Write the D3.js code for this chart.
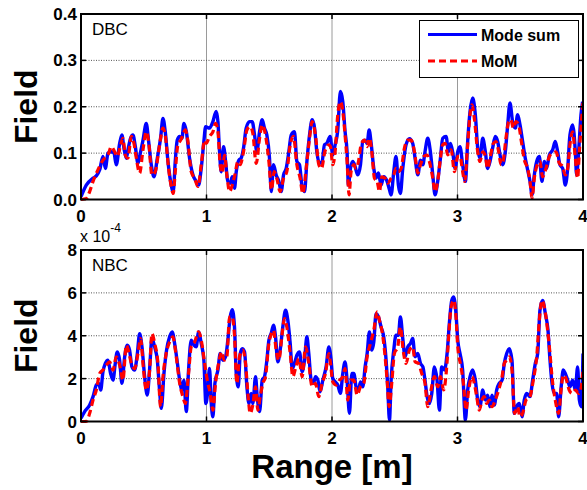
<!DOCTYPE html>
<html>
<head>
<meta charset="utf-8">
<script src="https://cdn.jsdelivr.net/npm/d3@7"></script>
<style>
  html, body { margin: 0; padding: 0; background: #fff; }
  svg { display: block; }
  text { font-family: "Liberation Sans", Arial, sans-serif; }
</style>
</head>
<body>
<svg id="chart" width="587" height="490"></svg>
<script>
// ---- Range axis and tick labels ----
const rangeTicks = [0, 1, 2, 3, 4];
const dbcTicks = [0, 0.1, 0.2, 0.3, 0.4];
const nbcTicks = [0, 2, 4, 6, 8];   // scaled by 1e-4
const seriesNames = ["Mode sum", "MoM"];

// ---- DBC: mode-sum field vs range ----
const dbcModeX = [0.000,0.042,0.096,0.122,0.149,0.175,0.194,0.215,0.242,0.263,0.281,0.308,0.326,0.342,0.361,0.374,0.395,0.414,0.433,0.454,0.475,0.494,0.520,0.539,0.560,0.581,0.608,0.634,0.653,0.671,0.693,0.714,0.735,0.751,0.767,0.786,0.804,0.820,0.839,0.865,0.892,0.918,0.937,0.958,0.979,0.993,
  1.024,1.051,1.077,1.091,1.104,1.117,1.136,1.152,1.170,1.189,1.205,1.223,1.237,1.258,1.276,1.295,1.316,1.343,1.364,1.383,1.401,1.423,1.444,1.462,1.481,1.502,1.516,1.534,1.555,1.577,1.595,1.614,1.635,1.656,1.675,1.701,1.720,1.741,1.760,1.781,1.800,1.821,1.842,1.861,1.879,1.900,1.921,1.940,1.958,1.985,
  2.006,2.025,2.045,2.067,2.086,2.104,2.120,2.131,2.147,2.166,2.184,2.205,2.227,2.245,2.264,2.280,2.296,2.312,2.333,2.351,2.370,2.391,2.412,2.439,2.458,2.471,2.492,2.510,2.529,2.545,2.564,2.590,2.617,2.643,2.662,2.684,2.705,2.724,2.741,2.763,2.784,2.803,2.821,2.842,2.864,2.882,2.909,2.928,2.944,2.963,2.981,
  3.002,3.020,3.041,3.063,3.081,3.100,3.121,3.142,3.161,3.179,3.201,3.222,3.240,3.259,3.280,3.301,3.320,3.339,3.360,3.381,3.400,3.418,3.439,3.461,3.479,3.498,3.519,3.540,3.559,3.578,3.594,3.612,3.631,3.652,3.673,3.692,3.710,3.732,3.758,3.779,3.798,3.816,3.838,3.859,3.878,3.896,3.917,3.939,3.949,3.965,3.984,3.997];
const dbcModeY = [0.006,0.031,0.046,0.051,0.064,0.093,0.067,0.100,0.103,0.100,0.075,0.121,0.139,0.111,0.089,0.107,0.132,0.139,0.114,0.078,0.103,0.128,0.164,0.125,0.075,0.049,0.089,0.132,0.175,0.147,0.082,0.039,0.017,0.082,0.128,0.136,0.132,0.164,0.147,0.089,0.053,0.039,0.031,0.067,0.125,0.157,
  0.154,0.168,0.190,0.168,0.103,0.060,0.114,0.082,0.039,0.035,0.049,0.024,0.060,0.085,0.089,0.111,0.154,0.168,0.168,0.139,0.103,0.147,0.172,0.154,0.139,0.089,0.017,0.075,0.053,0.039,0.017,0.053,0.067,0.103,0.139,0.146,0.082,0.075,0.031,0.017,0.082,0.139,0.172,0.154,0.103,0.078,0.082,0.118,0.121,0.136,
  0.096,0.118,0.147,0.233,0.211,0.147,0.103,0.031,0.067,0.082,0.071,0.053,0.075,0.125,0.128,0.121,0.150,0.121,0.067,0.046,0.057,0.031,0.049,0.039,0.021,0.010,0.060,0.093,0.031,0.013,0.067,0.118,0.131,0.121,0.089,0.053,0.085,0.075,0.103,0.132,0.103,0.053,0.010,0.039,0.089,0.132,0.136,0.103,0.121,0.100,0.067,
  0.103,0.114,0.075,0.039,0.125,0.190,0.219,0.183,0.111,0.089,0.132,0.103,0.067,0.082,0.111,0.136,0.125,0.096,0.075,0.103,0.161,0.208,0.168,0.154,0.183,0.161,0.125,0.089,0.064,0.039,0.010,0.053,0.082,0.093,0.039,0.082,0.067,0.096,0.107,0.125,0.103,0.075,0.067,0.031,0.067,0.139,0.161,0.103,0.053,0.103,0.183,0.211];

// ---- DBC: MoM field vs range ----
const dbcMomX = [0.000,0.042,0.069,0.096,0.135,0.175,0.215,0.242,0.268,0.289,0.316,0.334,0.353,0.374,0.401,0.422,0.441,0.467,0.494,0.520,0.539,0.565,0.592,0.626,0.653,0.671,0.698,0.719,0.735,0.751,0.772,0.794,0.812,0.831,0.852,0.878,0.905,0.932,0.958,0.985,
  0.998,1.024,1.051,1.072,1.091,1.109,1.125,1.144,1.162,1.184,1.205,1.226,1.250,1.268,1.295,1.322,1.348,1.369,1.396,1.423,1.444,1.470,1.497,1.518,1.539,1.560,1.587,1.614,1.640,1.667,1.693,1.720,1.746,1.767,1.794,1.821,1.842,1.868,1.895,1.916,1.943,1.975,
  1.988,2.006,2.025,2.046,2.067,2.086,2.104,2.120,2.136,2.152,2.174,2.192,2.211,2.232,2.258,2.280,2.298,2.317,2.338,2.360,2.378,2.397,2.423,2.444,2.471,2.492,2.510,2.529,2.551,2.577,2.603,2.630,2.657,2.684,2.705,2.731,2.758,2.776,2.803,2.821,2.842,2.864,2.882,2.901,2.922,2.949,2.976,
  3.002,3.020,3.041,3.057,3.081,3.100,3.116,3.134,3.161,3.179,3.201,3.222,3.240,3.259,3.286,3.307,3.328,3.347,3.365,3.386,3.408,3.426,3.445,3.466,3.487,3.509,3.533,3.559,3.578,3.594,3.612,3.631,3.657,3.678,3.705,3.732,3.758,3.785,3.811,3.838,3.859,3.878,3.896,3.917,3.939,3.957,3.971,3.992,4.000];
const dbcMomY = [0.000,0.002,0.017,0.039,0.064,0.085,0.096,0.114,0.103,0.093,0.118,0.132,0.096,0.089,0.136,0.121,0.089,0.057,0.107,0.146,0.125,0.053,0.060,0.118,0.154,0.139,0.067,0.028,0.013,0.060,0.118,0.128,0.139,0.150,0.125,0.060,0.046,0.028,0.075,0.128,
  0.121,0.136,0.146,0.164,0.146,0.075,0.057,0.096,0.053,0.017,0.031,0.053,0.082,0.075,0.103,0.150,0.157,0.143,0.078,0.132,0.161,0.139,0.082,0.021,0.060,0.046,0.017,0.046,0.060,0.118,0.136,0.075,0.046,0.013,0.067,0.132,0.168,0.139,0.075,0.067,0.103,0.118,
  0.114,0.075,0.103,0.183,0.211,0.190,0.139,0.082,0.010,0.060,0.075,0.067,0.082,0.118,0.128,0.114,0.132,0.103,0.046,0.039,0.017,0.049,0.046,0.035,0.046,0.053,0.067,0.060,0.067,0.111,0.128,0.128,0.103,0.057,0.075,0.093,0.096,0.082,0.046,0.017,0.039,0.089,0.118,0.121,0.096,0.107,0.060,
  0.093,0.093,0.060,0.039,0.118,0.183,0.204,0.175,0.103,0.082,0.103,0.093,0.067,0.089,0.121,0.125,0.103,0.075,0.085,0.132,0.168,0.172,0.154,0.168,0.161,0.125,0.085,0.067,0.039,0.003,0.046,0.071,0.082,0.049,0.067,0.093,0.100,0.103,0.078,0.071,0.053,0.067,0.118,0.146,0.089,0.046,0.103,0.183,0.211];

// ---- NBC: mode-sum field vs range (x 1e-4) ----
const nbcModeX = [0.000,0.029,0.069,0.096,0.122,0.141,0.157,0.175,0.194,0.215,0.236,0.255,0.273,0.289,0.308,0.326,0.348,0.369,0.387,0.406,0.427,0.449,0.467,0.486,0.507,0.528,0.547,0.565,0.587,0.608,0.626,0.640,0.661,0.682,0.706,0.727,0.746,0.767,0.786,0.804,0.820,0.839,0.857,0.878,0.900,0.918,0.937,0.958,0.979,0.995,
  1.008,1.024,1.038,1.051,1.067,1.091,1.109,1.131,1.152,1.170,1.189,1.205,1.223,1.237,1.253,1.269,1.285,1.303,1.322,1.338,1.356,1.369,1.391,1.404,1.423,1.444,1.462,1.481,1.497,1.515,1.534,1.550,1.568,1.587,1.608,1.630,1.648,1.667,1.683,1.701,1.720,1.741,1.762,1.781,1.800,1.815,1.834,1.853,1.868,1.887,1.905,1.927,1.953,1.975,1.993,
  2.006,2.025,2.046,2.067,2.086,2.104,2.120,2.139,2.158,2.174,2.192,2.211,2.227,2.245,2.264,2.280,2.298,2.317,2.333,2.351,2.370,2.391,2.412,2.431,2.444,2.458,2.471,2.492,2.510,2.529,2.545,2.564,2.582,2.604,2.625,2.643,2.662,2.684,2.705,2.724,2.741,2.758,2.776,2.795,2.816,2.837,2.856,2.874,2.896,2.917,2.935,2.954,2.970,2.988,
  3.002,3.020,3.041,3.063,3.081,3.100,3.121,3.142,3.161,3.179,3.201,3.222,3.240,3.259,3.275,3.294,3.312,3.333,3.355,3.373,3.392,3.413,3.434,3.453,3.471,3.493,3.514,3.532,3.551,3.577,3.599,3.620,3.639,3.657,3.678,3.700,3.721,3.737,3.753,3.771,3.790,3.806,3.825,3.843,3.859,3.878,3.896,3.917,3.939,3.957,3.971,3.987,4.000];
const nbcModeY = [0.15,0.46,0.77,1.16,1.70,1.78,1.47,2.32,2.71,2.86,2.24,1.93,2.71,3.25,2.86,1.78,3.02,3.56,3.33,2.55,2.40,3.17,4.10,3.48,2.09,1.23,2.47,3.87,3.48,2.86,1.47,0.61,2.24,3.33,3.95,4.18,3.64,2.78,1.93,1.47,1.93,0.46,2.40,3.79,3.56,3.48,4.18,3.64,2.86,0.84,
  1.31,2.47,0.84,0.22,1.78,2.40,3.17,2.86,3.02,3.79,4.88,5.22,4.41,2.24,1.62,3.17,3.40,3.25,1.62,0.84,1.31,0.84,2.09,1.16,0.46,1.93,2.09,2.86,3.79,4.10,4.49,3.95,2.78,3.33,4.41,5.19,4.72,3.64,2.47,2.71,3.09,3.25,2.32,2.86,3.95,3.17,1.93,1.78,2.09,1.93,1.39,1.93,2.55,3.48,2.86,
  2.01,1.85,1.70,1.31,2.24,2.78,1.93,0.38,2.24,2.24,1.62,1.47,1.85,1.62,2.55,3.17,4.18,3.33,3.71,5.03,4.88,4.41,3.95,2.86,1.62,0.07,1.93,3.33,4.02,4.02,4.88,3.87,3.02,3.48,3.64,3.87,3.02,3.17,2.71,2.55,1.93,1.16,0.84,1.31,2.55,1.93,0.53,2.55,2.40,3.17,4.57,5.65,5.81,5.03,
  3.79,3.17,2.40,0.07,1.47,2.09,2.40,1.93,1.00,0.69,1.47,1.00,1.23,0.69,1.23,0.77,1.47,1.78,1.93,2.71,3.17,3.40,2.86,0.38,0.69,0.84,0.22,1.00,1.31,1.16,1.93,2.71,3.17,5.19,5.65,5.03,4.26,2.86,1.78,1.31,1.31,0.22,1.55,2.40,2.24,1.93,1.62,1.93,1.47,2.55,1.00,0.69,3.17];

// ---- NBC: MoM field vs range (x 1e-4) ----
const nbcMomX = [0.000,0.042,0.069,0.096,0.122,0.149,0.175,0.202,0.228,0.255,0.281,0.308,0.334,0.361,0.380,0.401,0.427,0.454,0.475,0.496,0.520,0.547,0.565,0.587,0.613,0.634,0.653,0.679,0.706,0.732,0.759,0.786,0.812,0.831,0.857,0.878,0.905,0.937,0.963,0.985,
  1.011,1.030,1.051,1.072,1.099,1.120,1.141,1.162,1.184,1.205,1.223,1.242,1.263,1.290,1.311,1.332,1.348,1.369,1.391,1.409,1.428,1.449,1.470,1.497,1.518,1.534,1.555,1.576,1.603,1.622,1.640,1.667,1.688,1.709,1.736,1.762,1.789,1.815,1.842,1.868,1.895,1.921,1.948,1.975,
  1.988,2.006,2.033,2.060,2.086,2.104,2.126,2.147,2.174,2.200,2.227,2.253,2.280,2.306,2.333,2.360,2.378,2.397,2.418,2.439,2.455,2.476,2.497,2.524,2.545,2.567,2.590,2.617,2.643,2.662,2.689,2.715,2.741,2.763,2.789,2.816,2.843,2.864,2.890,2.912,2.933,2.949,2.970,2.988,
  3.002,3.028,3.047,3.068,3.089,3.116,3.134,3.153,3.174,3.195,3.214,3.232,3.254,3.275,3.301,3.328,3.355,3.373,3.392,3.413,3.434,3.455,3.479,3.498,3.519,3.546,3.577,3.604,3.631,3.652,3.673,3.692,3.718,3.737,3.753,3.779,3.806,3.825,3.843,3.864,3.890,3.912,3.939,3.965,3.987,4.000];
const nbcMomY = [0.00,0.00,0.38,1.00,1.47,2.24,2.40,2.63,2.78,2.40,3.02,2.63,1.93,3.56,3.25,2.71,2.47,3.17,3.87,2.55,1.47,2.40,4.10,3.64,2.71,0.69,2.09,3.17,3.71,3.95,3.02,1.78,1.16,0.84,2.24,3.48,3.71,4.18,3.64,2.71,
  1.78,1.31,0.53,1.78,2.78,3.25,2.86,3.02,4.88,4.88,4.02,1.78,3.02,3.33,2.71,1.16,0.38,0.77,1.62,0.53,1.16,1.78,2.09,3.64,4.10,4.26,3.33,2.86,4.10,4.80,4.41,3.17,2.09,2.47,2.94,2.09,3.48,2.71,1.62,1.78,1.16,1.78,2.24,3.17,
  2.71,1.85,1.70,1.93,2.09,2.47,1.00,1.93,1.93,1.23,1.62,1.78,3.02,3.64,4.26,5.11,4.72,4.26,3.33,1.93,0.69,1.78,3.17,3.48,4.41,3.33,2.71,3.33,3.48,2.78,2.71,2.24,1.78,0.69,1.47,2.09,1.62,2.09,1.47,2.40,4.26,5.34,5.65,4.88,
  3.48,2.55,1.78,0.53,1.47,2.09,1.78,1.16,0.53,1.00,1.16,0.84,1.00,0.69,1.00,1.47,2.09,2.71,2.86,3.02,2.40,0.38,0.69,0.22,0.38,1.00,1.16,1.93,3.02,4.72,5.65,5.34,4.26,3.17,2.09,1.00,0.38,1.47,2.17,2.01,1.47,1.31,1.47,1.31,1.62,2.40];

// ---- layout ----
const svg = d3.select("#chart");
const left = 81, right = 583;
const panels = [
  { top: 14, bottom: 199.5, domain: [0, 0.4], ticks: dbcTicks, fmt: d3.format(".1f"), tag: "DBC",
    blue: [dbcModeX, dbcModeY], red: [dbcMomX, dbcMomY], legend: true },
  { top: 250, bottom: 421.5, domain: [0, 8], ticks: nbcTicks, fmt: d3.format("d"), tag: "NBC",
    blue: [nbcModeX, nbcModeY], red: [nbcMomX, nbcMomY], legend: false }
];

const x = d3.scaleLinear().domain([0, 4]).range([left, right]);
const BLUE = "#0000ff", RED = "#ff0000";

svg.append("defs").append("clipPath").attr("id", "clipA")
  .append("rect").attr("x", left).attr("y", 0).attr("width", right - left).attr("height", 490);

panels.forEach((p, i) => {
  const y = d3.scaleLinear().domain(p.domain).range([p.bottom, p.top]);
  const g = svg.append("g");

  // white plot area
  g.append("rect").attr("x", left).attr("y", p.top)
    .attr("width", right - left).attr("height", p.bottom - p.top).attr("fill", "#fff");

  // grid
  g.append("g").selectAll("line").data(rangeTicks.slice(1, -1)).join("line")
    .attr("x1", d => x(d)).attr("x2", d => x(d)).attr("y1", p.top).attr("y2", p.bottom)
    .attr("stroke", "#9a9a9a").attr("stroke-width", 1);
  g.append("g").selectAll("line").data(p.ticks.slice(1, -1)).join("line")
    .attr("x1", left).attr("x2", right).attr("y1", d => y(d)).attr("y2", d => y(d))
    .attr("stroke", "#555").attr("stroke-width", 1).attr("stroke-dasharray", "1,1.5");

  // curves
  const line = d3.line().x(d => x(d[0])).y(d => y(d[1])).curve(d3.curveMonotoneX);
  const blueData = p.blue[0].map((v, k) => [v, p.blue[1][k]]);
  const redData = p.red[0].map((v, k) => [v, p.red[1][k]]);
  const curves = g.append("g").attr("clip-path", "url(#clipA)");
  curves.append("path").datum(blueData).attr("d", line)
    .attr("fill", "none").attr("stroke", BLUE).attr("stroke-width", 3.4).attr("stroke-linejoin", "round");
  curves.append("path").datum(redData).attr("d", line)
    .attr("fill", "none").attr("stroke", RED).attr("stroke-width", 3.2)
    .attr("stroke-dasharray", "7,4");

  // inward ticks on all four sides
  const tl = 5;
  const tk = g.append("g").attr("stroke", "#000").attr("stroke-width", 1.5);
  rangeTicks.forEach(d => {
    tk.append("line").attr("x1", x(d)).attr("x2", x(d)).attr("y1", p.bottom).attr("y2", p.bottom - tl);
    tk.append("line").attr("x1", x(d)).attr("x2", x(d)).attr("y1", p.top).attr("y2", p.top + tl);
  });
  p.ticks.forEach(d => {
    tk.append("line").attr("x1", left).attr("x2", left + tl).attr("y1", y(d)).attr("y2", y(d));
    tk.append("line").attr("x1", right).attr("x2", right - tl).attr("y1", y(d)).attr("y2", y(d));
  });

  // frame
  g.append("rect").attr("x", left).attr("y", p.top)
    .attr("width", right - left).attr("height", p.bottom - p.top)
    .attr("fill", "none").attr("stroke", "#000").attr("stroke-width", 2);

  // tick labels
  g.append("g").selectAll("text").data(p.ticks).join("text")
    .attr("x", left - 4).attr("y", d => y(d)).attr("dy", "0.36em")
    .attr("text-anchor", "end").attr("font-size", 17).attr("font-weight", "bold")
    .text(d => p.fmt(d));
  g.append("g").selectAll("text").data(rangeTicks).join("text")
    .attr("x", d => x(d)).attr("y", p.bottom + 22)
    .attr("text-anchor", "middle").attr("font-size", 17).attr("font-weight", "bold")
    .text(d => d);

  // panel tag
  g.append("text").attr("x", left + 11).attr("y", p.top + 21)
    .attr("font-size", 17).attr("font-family", "'Open Sans', 'DejaVu Sans', sans-serif").text(p.tag);

  // y axis title
  g.append("text")
    .attr("transform", `translate(${37},${(p.top + p.bottom) / 2}) rotate(-90)`)
    .attr("text-anchor", "middle").attr("font-size", 32).attr("font-weight", "bold")
    .text("Field");

  if (p.legend) {
    const lg = g.append("g");
    lg.append("rect").attr("x", 419.5).attr("y", 20.5).attr("width", 159).attr("height", 57)
      .attr("fill", "#fff").attr("stroke", "#000").attr("stroke-width", 1);
    [[BLUE, null, 34.5], [RED, "7,4", 61]].forEach((e, k) => {
      lg.append("line").attr("x1", 428).attr("x2", 477).attr("y1", e[2]).attr("y2", e[2])
        .attr("stroke", e[0]).attr("stroke-width", 3).attr("stroke-dasharray", e[1]);
      lg.append("text").attr("x", 481).attr("y", e[2] + 6)
        .attr("font-size", 16).attr("font-weight", "bold").text(seriesNames[k]);
    });
  }
});

// exponent for the NBC axis
const ex = svg.append("text").attr("x", 80).attr("y", 242).attr("font-size", 16)
  .attr("font-family", "'Open Sans', 'DejaVu Sans', sans-serif");
ex.append("tspan").text("x 10");
ex.append("tspan").attr("dy", -10).attr("font-size", 12).text("-4");

// x axis title
svg.append("text").attr("x", 332).attr("y", 478).attr("text-anchor", "middle")
  .attr("font-size", 33).attr("font-weight", "bold").text("Range [m]");
</script>
</body>
</html>
